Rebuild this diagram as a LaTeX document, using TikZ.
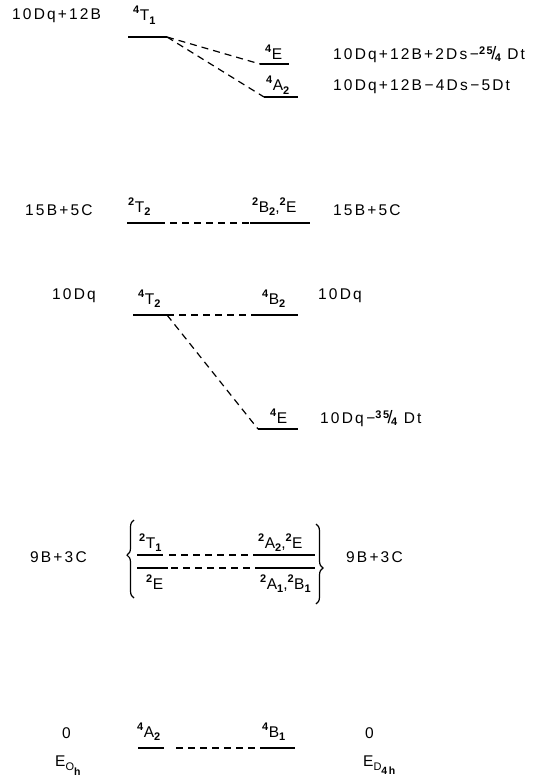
\documentclass[tikz,border=0pt]{standalone}
\usepackage{fontspec}
\setmainfont{Liberation Sans}[LetterSpace=14]
\usetikzlibrary{decorations.pathreplacing}
\newcommand\spx[1]{\raisebox{7pt}{\fontsize{11}{10}\selectfont\bfseries #1}\kern0.5pt}
\newcommand\sbx[1]{\raisebox{-3.5pt}{\fontsize{11}{10}\selectfont\bfseries #1}}
\newcommand\mn{\,\char"2212\relax}
\newcommand\frc[2]{\raisebox{5pt}{\fontsize{11}{10}\selectfont\bfseries #1}\kern-1.5pt{\fontsize{18}{14}\selectfont/}\kern-1.5pt\raisebox{-2pt}{\fontsize{11}{10}\selectfont\bfseries #2}}
\begin{document}
\begin{tikzpicture}[x=1pt,y=-1pt,
  txt/.style={anchor=base west, inner sep=0pt, font=\fontsize{15.5}{17}\selectfont},
  lvl/.style={line width=1.6pt},
  conn/.style={line width=1.2pt, dash pattern=on 7pt off 5pt},
  brc/.style={line width=1.2pt, decorate, decoration={brace, amplitude=7pt, aspect=0.55}}]
\useasboundingbox[fill=white] (0,0) rectangle (553,781);
% ---- row 1
\node[txt] (L1) at (12,20) {10Dq+12B};
\coordinate (t1a) at (128,37); \coordinate (t1b) at (167,37);
\draw[lvl] (t1a) -- (t1b);
\node[txt] (t1) at (133,21) {\spx{4}T\sbx{1}};
\coordinate (e1a) at (260,64); \coordinate (e1b) at (289,64);
\draw[lvl] (e1a) -- (e1b);
\node[txt] (e1) at (265,60) {\spx{4}E};
\coordinate (a2a) at (264,97); \coordinate (a2b) at (298,97);
\draw[lvl] (a2a) -- (a2b);
\node[txt] (a2) at (266,91) {\spx{4}A\sbx{2}};
\draw[conn] (t1b) -- (e1a);
\draw[conn] (t1b) -- (a2a);
\node[txt] (R1a) at (333,60) {10Dq+12B+2Ds\mn\frc{25}{4} Dt};
\node[txt] (R1b) at (333,91) {10Dq+12B\mn4Ds\mn5Dt};
% ---- row 2
\node[txt] (L2) at (25,215) {15B+5C};
\coordinate (t2a) at (127,223); \coordinate (t2b) at (158,223);
\draw[lvl] (t2a) -- (t2b);
\node[txt] (t2) at (128,212) {\spx{2}T\sbx{2}};
\coordinate (b2a) at (250,223); \coordinate (b2b) at (310,223);
\draw[lvl] (b2a) -- (b2b);
\node[txt] (b2) at (252,212) {\spx{2}B\sbx{2},\spx{2}E};
\draw[conn] (t2b) -- (b2a);
\node[txt] (R2) at (333,215) {15B+5C};
% ---- row 3
\node[txt] (L3) at (52,299) {10Dq};
\coordinate (q2a) at (133,315); \coordinate (q2b) at (167,315);
\draw[lvl] (q2a) -- (q2b);
\node[txt] (q2) at (138,304) {\spx{4}T\sbx{2}};
\coordinate (qb2a) at (256,315); \coordinate (qb2b) at (298,315);
\draw[lvl] (qb2a) -- (qb2b);
\node[txt] (qb2) at (262,304) {\spx{4}B\sbx{2}};
\draw[conn] (q2b) -- (qb2a);
\node[txt] (R3) at (318,299) {10Dq};
\coordinate (qea) at (258,429); \coordinate (qeb) at (298,429);
\draw[lvl] (qea) -- (qeb);
\node[txt] (qe) at (270,423) {\spx{4}E};
\draw[conn] (q2b) -- (qea);
\node[txt] (R3b) at (320,423) {10Dq\mn\frc{35}{4} Dt};
% ---- row 4
\node[txt] (L4) at (30,562) {9B+3C};
\coordinate (bl1) at (134,598); \coordinate (bl2) at (134,520);
\draw[brc] (bl1) -- (bl2);
\coordinate (d1a) at (137,555); \coordinate (d1b) at (163,555);
\draw[lvl] (d1a) -- (d1b);
\node[txt] (d1) at (139,548) {\spx{2}T\sbx{1}};
\coordinate (d2a) at (137,568); \coordinate (d2b) at (168,568);
\draw[lvl] (d2a) -- (d2b);
\node[txt] (d2) at (146,589) {\spx{2}E};
\coordinate (d3a) at (258,555); \coordinate (d3b) at (315,555);
\draw[lvl] (d3a) -- (d3b);
\node[txt] (d3) at (258,548) {\spx{2}A\sbx{2},\spx{2}E};
\coordinate (d4a) at (262,568); \coordinate (d4b) at (315,568);
\draw[lvl] (d4a) -- (d4b);
\node[txt] (d4) at (260,589) {\spx{2}A\sbx{1},\spx{2}B\sbx{1}};
\draw[conn] ([xshift=6pt]d1b) -- (d3a);
\draw[conn] ([xshift=3pt]d2b) -- (d4a);
\coordinate (br1) at (316,524); \coordinate (br2) at (316,604);
\draw[brc] (br1) -- (br2);
\node[txt] (R4) at (346,562) {9B+3C};
% ---- row 5
\node[txt] (L5) at (62,738) {0};
\node[txt] (L5b) at (55,766) {E\raisebox{-4pt}{\fontsize{11}{10}\selectfont O}\raisebox{-9pt}{\fontsize{10.5}{10}\selectfont\bfseries h}};
\coordinate (g1a) at (138,748); \coordinate (g1b) at (164,748);
\draw[lvl] (g1a) -- (g1b);
\node[txt] (g1) at (137,737) {\spx{4}A\sbx{2}};
\coordinate (g2a) at (260,748); \coordinate (g2b) at (295,748);
\draw[lvl] (g2a) -- (g2b);
\node[txt] (g2) at (262,737) {\spx{4}B\sbx{1}};
\draw[conn] ([xshift=12pt]g1b) -- (g2a);
\node[txt] (R5) at (365,738) {0};
\node[txt] (R5b) at (363,766) {E\raisebox{-4pt}{\fontsize{11}{10}\selectfont D}\raisebox{-8pt}{\fontsize{10.5}{10}\selectfont\bfseries 4h}};
\end{tikzpicture}
\end{document}
